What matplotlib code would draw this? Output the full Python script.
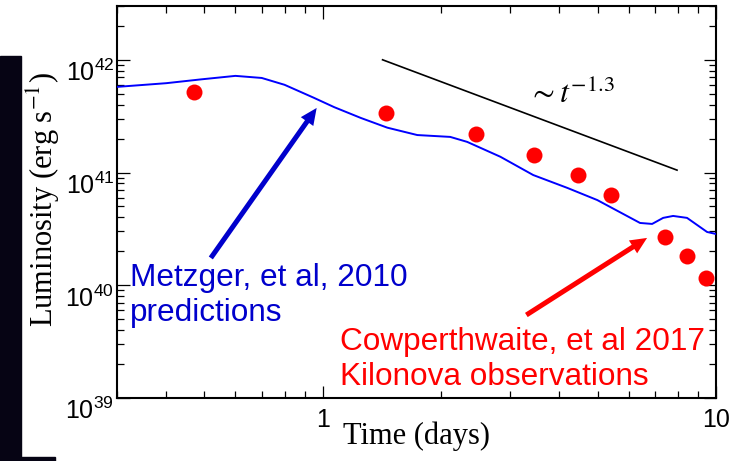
import matplotlib
matplotlib.use("Agg")
import numpy as np
from matplotlib import pyplot as plt, ticker as plticker
from matplotlib.patches import Rectangle

plt.rcParams["font.family"] = ["Liberation Sans", "DejaVu Sans"]
plt.rcParams["mathtext.fontset"] = "custom"
plt.rcParams["mathtext.rm"] = "Liberation Sans"
plt.rcParams["mathtext.it"] = "Liberation Sans:italic"
plt.rcParams["mathtext.bf"] = "Liberation Sans:bold"

# Metzger et al. 2010 model light curve (days, erg/s)
t_model = [0.30, 0.40, 0.49, 0.60, 0.70, 0.80, 0.95, 1.07, 1.25, 1.46, 1.74,
           2.11, 2.33, 2.83, 3.43, 4.19, 4.99, 6.41, 6.88, 7.34, 7.78, 8.44,
           9.49, 10.0]
L_model = [5.75e41, 6.2e41, 6.7e41, 7.2e41, 6.9e41, 6.0e41, 4.6e41, 3.8e41,
           3.05e41, 2.5e41, 2.15e41, 2.07e41, 1.87e41, 1.38e41, 9.5e40,
           7.3e40, 5.7e40, 3.57e40, 3.5e40, 3.96e40, 4.12e40, 3.96e40,
           2.97e40, 2.85e40]

# Cowperthwaite et al. 2017 kilonova observations
t_obs = [0.47, 1.45, 2.46, 3.45, 4.47, 5.41, 7.42, 8.44, 9.44]
L_obs = [5.2e41, 3.4e41, 2.2e41, 1.43e41, 9.5e40, 6.3e40, 2.7e40, 1.8e40, 1.16e40]

# t^-1.3 guide line end points
t_fit = [1.42, 7.96]
L_fit = [1.0e42, 1.05e41]

xtick_vals = [1, 10]
xtick_labels = ["1", "10"]
ytick_vals = [1e39, 1e40, 1e41, 1e42]
ytick_labels = [r"$10^{39}$", r"$10^{40}$", r"$10^{41}$", r"$10^{42}$"]

BLUE_TEXT = "#0000CC"
RED = "#FF0000"


def draw_plot():
    fig = plt.figure(figsize=(7.41, 4.61), dpi=100)
    ax = fig.add_axes([117 / 741, 63 / 461, 599 / 741, 392 / 461])

    # dark bar on the left edge of the slide
    fig.patches.append(Rectangle((0, 0), 21 / 741, 405 / 461, transform=fig.transFigure,
                                 color="#060414", zorder=0))
    fig.patches.append(Rectangle((0, 0), 55 / 741, 4 / 461, transform=fig.transFigure,
                                 color="#060414", zorder=0))

    ax.plot(t_model, L_model, color="#0000FF", lw=1.4, zorder=3)
    ax.plot(t_obs, L_obs, "o", color=RED, ms=11.5, mec="none", zorder=4)
    ax.plot(t_fit, L_fit, color="black", lw=1.2, zorder=3)

    ax.set_xscale("log")
    ax.set_yscale("log")
    ax.set_xlim(0.3, 10)
    ax.set_ylim(1e39, 3e42)

    ax.xaxis.set_minor_locator(plticker.LogLocator(base=10, subs=np.arange(2, 10)))
    ax.yaxis.set_minor_locator(plticker.LogLocator(base=10, subs=np.arange(2, 10)))
    ax.xaxis.set_minor_formatter(plticker.NullFormatter())
    ax.yaxis.set_minor_formatter(plticker.NullFormatter())
    ax.tick_params(which="both", direction="in", top=True, right=True, width=0.9)
    ax.tick_params(which="major", length=9)
    ax.tick_params(which="minor", length=5)
    ax.tick_params(axis="x", pad=7)
    ax.tick_params(axis="y", pad=2)
    ax.set_xticks(xtick_vals, xtick_labels, fontsize=18)
    ax.set_yticks(ytick_vals, ytick_labels, fontsize=18, va="top")
    for s in ax.spines.values():
        s.set_linewidth(1.5)

    ax.set_xlabel("Time (days)", family="Liberation Serif", fontsize=22)
    ax.set_ylabel(r"Luminosity (erg s$^{-1}$)", family="Liberation Serif",
                  math_fontfamily="stix", fontsize=22)
    ax.xaxis.set_label_coords(0.5, -0.06)
    ax.yaxis.set_label_coords(-0.092, 0.505)

    ax.text(0.686, 0.7526, r"$\sim t^{-1.3}$", transform=ax.transAxes,
            math_fontfamily="stix", fontsize=23, ha="left", va="baseline")

    # arrows
    ax.annotate("", xy=(0.9655, 3.74e41), xytext=(0.5196, 1.747e40),
                arrowprops=dict(arrowstyle="simple,head_width=0.55,head_length=0.6,tail_width=0.18",
                                color=BLUE_TEXT, lw=0, shrinkA=0, shrinkB=0, mutation_scale=20),
                zorder=5)
    ax.annotate("", xy=(6.68, 2.63e40), xytext=(3.295, 5.45e39),
                arrowprops=dict(arrowstyle="simple,head_width=0.55,head_length=0.6,tail_width=0.18",
                                color=RED, lw=0, shrinkA=0, shrinkB=0, mutation_scale=20),
                zorder=5)

    ax.text(0.0217, 0.344, "Metzger, et al, 2010\npredictions", transform=ax.transAxes,
            color=BLUE_TEXT, fontsize=22.7, ha="left", va="top", zorder=6)
    ax.text(0.372, 0.181, "Cowperthwaite, et al 2017\nKilonova observations",
            transform=ax.transAxes, color=RED, fontsize=22.7, ha="left", va="top", zorder=6)
    return fig


def save_plot():
    fig = draw_plot()
    fig.savefig("out.png", dpi=100)
    return


if __name__ == "__main__":
    save_plot()
